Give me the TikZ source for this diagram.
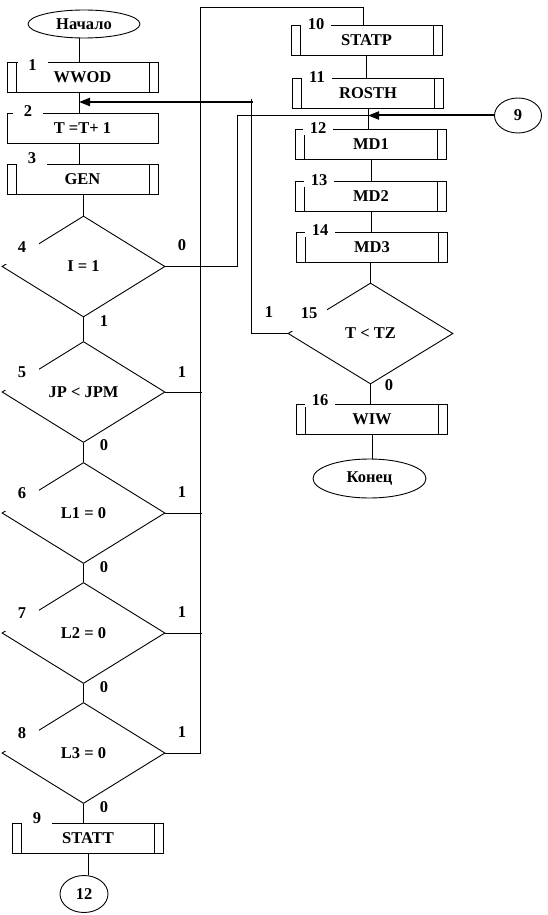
\documentclass[tikz,border=0pt]{standalone}
\usepackage{fontspec}
\setmainfont{Liberation Serif}
\usetikzlibrary{shapes.geometric,arrows.meta,calc}
\begin{document}
\begin{tikzpicture}[x=1pt,y=-1pt, line width=0.9pt,
  font=\bfseries\fontsize{16.5}{16.5}\selectfont,
  proc/.style={draw, rectangle, minimum width=151pt, minimum height=30pt, inner sep=0pt},
  sub/.style={proc, path picture={\draw ([xshift=9pt]path picture bounding box.north west) -- ([xshift=9pt]path picture bounding box.south west) ([xshift=-9pt]path picture bounding box.north east) -- ([xshift=-9pt]path picture bounding box.south east);}},
  dec/.style={draw, diamond, minimum width=163pt, minimum height=101pt, inner sep=0pt},
  term/.style={draw, ellipse, inner sep=0pt},
  num/.style={fill=white, inner sep=0pt, minimum width=30pt, minimum height=14pt},
  dnum/.style={fill=white, inner sep=0pt, minimum width=34pt, minimum height=34pt},
  outl/.style={fill=white, inner sep=1.5pt},
  flow/.style={line width=2pt, -{Triangle[length=11pt,width=8pt]}}]
\useasboundingbox (0,0) rectangle (547,915);

% left column
\node[term, minimum width=112pt, minimum height=28pt] (start) at (84,24) {Начало};
\node[sub] (b1) at (82.5,77) {WWOD};
\node[proc] (b2) at (82.5,128) {T =T+ 1};
\node[sub] (b3) at (82.5,179) {GEN};
\node[dec] (d4) at (83.5,266.5) {I = 1};
\node[dec] (d5) at (83.5,392) {JP < JPM};
\node[dec] (d6) at (83.5,513) {L1 = 0};
\node[dec] (d7) at (83.5,633) {L2 = 0};
\node[dec] (d8) at (83.5,753) {L3 = 0};
\node[sub] (b9) at (88,838) {STATT};
\node[term, minimum width=48pt, minimum height=37pt] (c12) at (84,894) {12};

% right column
\node[sub] (b10) at (366.5,40) {STATP};
\node[sub] (b11) at (368,93) {ROSTH};
\node[term, minimum width=47pt, minimum height=35pt] (c9) at (518,115.5) {9};
\node[sub] (b12) at (371,144) {MD1};
\node[sub] (b13) at (371,196) {MD2};
\node[sub] (b14) at (372,247.5) {MD3};
\node[dec, minimum width=165pt] (d15) at (370.5,333.5) {T < TZ};
\node[sub] (b16) at (372,419) {WIW};
\node[term, minimum width=113pt, minimum height=39pt] (stop) at (369.5,478.5) {Конец};

% helper coordinates
\coordinate (m) at (79,0);
\coordinate (tl) at (200,7);
\coordinate (tr) at (363,7);
\coordinate (c4) at (237,115.5);
\coordinate (r1) at (251,102);
\coordinate (a1) at (253,102);

% left chain
\draw (start.south -| m) -- (b1.north -| m);
\draw (b1.south -| m) -- (b2.north -| m);
\draw (b2.south -| m) -- (b3.north -| m);
\draw (d4.north) -- (d4.north |- b3.south);
\draw (d4.south) -- (d5.north);
\draw (d5.south) -- (d6.north);
\draw (d6.south) -- (d7.north);
\draw (d7.south) -- (d8.north);
\draw (d8.south) -- (d8.south |- b9.north);
\draw (b9.south) -- (b9.south |- c12.north);

% right chain
\draw (d8.east) -- (d8.east -| tl) -- (tl) -- (tr) -- (tr |- b10.north);
\draw (d5.east) -- ($(d5.east -| tl)+(2,0)$);
\draw (d6.east) -- ($(d6.east -| tl)+(2,0)$);
\draw (d7.east) -- ($(d7.east -| tl)+(2,0)$);
\draw (b10.south) -- (b10.south |- b11.north);
\draw (b11.south) -- (b11.south |- b12.north);
\draw (b12.south) -- (b12.south |- b13.north);
\draw (b13.south) -- (b13.south |- b14.north);
\draw (d15.north) -- (d15.north |- b14.south);
\draw (d15.south) -- (d15.south |- b16.north);
\draw (b16.south) -- (b16.south |- stop.north);

% loops
\draw (d4.east) -- (d4.east -| c4) -- (c4) -- (c4 -| b11.south);
\draw[flow] (c9.west) -- (c9.west -| b11.south);
\draw (d15.west) -- (d15.west -| r1) -- ($(r1)+(0,-3)$);
\draw[flow] (a1) -- (a1 -| m);

% block numbers
\node[num] (n1) at (32.5,65) {1};
\node[num] (n2) at (28,111) {2};
\node[num] (n3) at (32,158) {3};
\node[num] (n9) at (37,818) {9};
\node[num] (n10) at (316,24) {10};
\node[num] (n11) at (317,77) {11};
\node[num] (n12) at (318,128) {12};
\node[num] (n13) at (319,180) {13};
\node[num] (n14) at (320,230) {14};
\node[num] (n16) at (320,400) {16};
\node[dnum] (n4) at ($(d4)+(-61.5,-19.5)$) {4};
\node[dnum] (n5) at ($(d5)+(-61.5,-19.5)$) {5};
\node[dnum] (n6) at ($(d6)+(-61.5,-19.5)$) {6};
\node[dnum] (n7) at ($(d7)+(-61.5,-19.5)$) {7};
\node[dnum] (n8) at ($(d8)+(-61.5,-19.5)$) {8};
\node[dnum, minimum width=36pt, minimum height=35pt] (n15) at (309,313.5) {15};

% branch labels
\node[outl] (o4) at (182,245) {0};
\node[outl] (o4b) at (104,321) {1};
\node[outl] (o5) at (182,372) {1};
\node[outl] (o5b) at (104,445) {0};
\node[outl] (o6) at (182,492) {1};
\node[outl] (o6b) at (104,567) {0};
\node[outl] (o7) at (182,612) {1};
\node[outl] (o7b) at (104,687) {0};
\node[outl] (o8) at (182,732) {1};
\node[outl] (o8b) at (104,807) {0};
\node[outl] (o15) at (269,312) {1};
\node[outl] (o15b) at (389,385) {0};
\end{tikzpicture}
\end{document}
